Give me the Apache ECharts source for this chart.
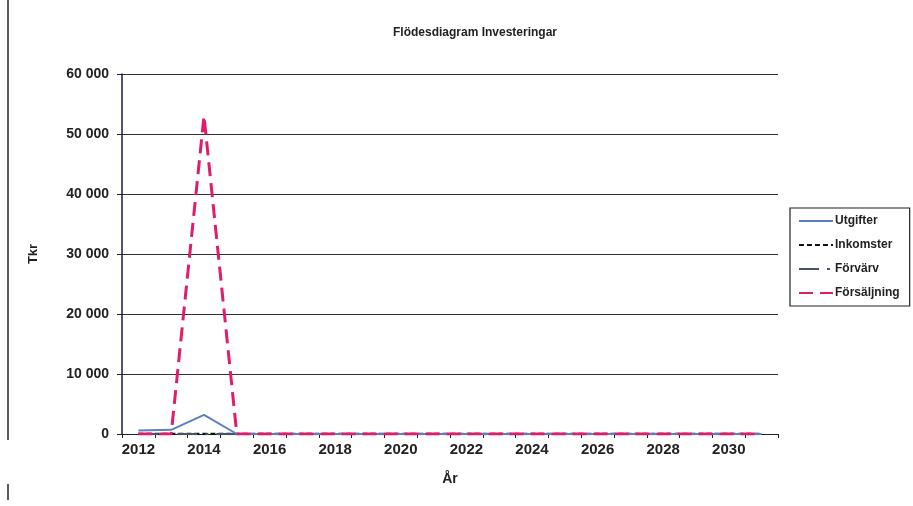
<!DOCTYPE html>
<html>
<head>
<meta charset="utf-8">
<script src="https://cdn.jsdelivr.net/npm/echarts@6/dist/echarts.min.js"></script>
<style>
  html, body { margin: 0; padding: 0; background: #fff; }
  #chart { width: 913px; height: 506px; }
</style>
</head>
<body>
<div id="chart"></div>
<script>
// Cash-flow chart for investments, 2012–2031 (Tkr)
const years = ['2012','2013','2014','2015','2016','2017','2018','2019','2020','2021',
               '2022','2023','2024','2025','2026','2027','2028','2029','2030','2031'];
const utgifter    = [600, 700, 3200, 0, 0, 0, 0, 0, 0, 0, 0, 0, 0, 0, 0, 0, 0, 0, 0, 0];
const inkomster   = [0, 0, 0, 0, 0, 0, 0, 0, 0, 0, 0, 0, 0, 0, 0, 0, 0, 0, 0, 0];
const forvarv     = [0, 0, 0, 0, 0, 0, 0, 0, 0, 0, 0, 0, 0, 0, 0, 0, 0, 0, 0, 0];
const forsaljning = [0, 0, 53000, 0, 0, 0, 0, 0, 0, 0, 0, 0, 0, 0, 0, 0, 0, 0, 0, 0];
const yTicks = [0, 10000, 20000, 30000, 40000, 50000, 60000];

const font = 'Arial, "Liberation Sans", sans-serif';
const chart = echarts.init(document.getElementById('chart'));

function fmt(v) {
  return String(v).replace(/\B(?=(\d{3})+(?!\d))/g, ' ');
}

chart.setOption({
  animation: false,
  backgroundColor: '#ffffff',
  title: {
    text: 'Flödesdiagram Investeringar',
    left: 470, top: 22, textAlign: 'center',
    textStyle: { fontFamily: font, fontSize: 12, fontWeight: 'bold', color: '#222' }
  },
  grid: { left: 122, right: 135, top: 74, bottom: 72 },
  legend: {
    orient: 'vertical',
    left: 790, top: 208,
    itemWidth: 34, itemHeight: 12, itemGap: 12,
    padding: [7, 10, 7, 8],
    borderColor: '#222', borderWidth: 1.2,
    itemStyle: { opacity: 0 },
    textStyle: { fontFamily: font, fontSize: 12, fontWeight: 'bold', color: '#222', padding: [0, 0, 0, -3] },
    data: ['Utgifter', 'Inkomster', 'Förvärv', 'Försäljning']
  },
  xAxis: {
    type: 'category',
    data: years,
    boundaryGap: true,
    name: 'År', nameLocation: 'middle', nameGap: 38,
    nameTextStyle: { fontFamily: font, fontSize: 14, fontWeight: 'bold', color: '#222' },
    axisLine: { lineStyle: { color: '#222', width: 1 } },
    axisTick: { show: true, interval: 0, length: 4, lineStyle: { color: '#222' } },
    axisLabel: { interval: 1, fontFamily: font, fontSize: 15, fontWeight: 'bold', color: '#222', margin: 8 },
    splitLine: { show: false }
  },
  yAxis: {
    type: 'value',
    min: yTicks[0], max: yTicks[yTicks.length - 1], interval: 10000,
    name: 'Tkr', nameLocation: 'middle', nameGap: 82, nameRotate: 90,
    nameTextStyle: { fontFamily: font, fontSize: 13, fontWeight: 'bold', color: '#222' },
    axisLine: { show: true, lineStyle: { color: '#1a1a4a', width: 1.5 } },
    axisTick: { show: true, length: 5, lineStyle: { color: '#222' } },
    axisLabel: { fontFamily: font, fontSize: 14, fontWeight: 'bold', color: '#222', margin: 13, formatter: fmt },
    splitLine: { show: true, lineStyle: { color: '#333', width: 1 } }
  },
  graphic: [
    { type: 'line', shape: { x1: 8, y1: 0, x2: 8, y2: 440 }, style: { stroke: '#222', lineWidth: 1.5 } },
    { type: 'line', shape: { x1: 8, y1: 484, x2: 8, y2: 500 }, style: { stroke: '#222', lineWidth: 1.5 } }
  ],
  series: [
    {
      name: 'Utgifter', type: 'line', data: utgifter, symbol: 'none',
      lineStyle: { color: '#5b7fc4', width: 2 }, itemStyle: { color: '#5b7fc4' }, z: 3
    },
    {
      name: 'Inkomster', type: 'line', data: inkomster, symbol: 'none',
      lineStyle: { color: '#111', width: 2.5, type: [5, 3] }, itemStyle: { color: '#111' }, z: 2
    },
    {
      name: 'Förvärv', type: 'line', data: forvarv, symbol: 'none',
      lineStyle: { color: '#445566', width: 2, type: [20, 8, 3, 8] }, itemStyle: { color: '#445566' }, z: 2
    },
    {
      name: 'Försäljning', type: 'line', data: forsaljning, symbol: 'none',
      lineStyle: { color: '#e01c6c', width: 3, type: [14, 7] }, itemStyle: { color: '#e01c6c' }, z: 4
    }
  ]
});
</script>
</body>
</html>
